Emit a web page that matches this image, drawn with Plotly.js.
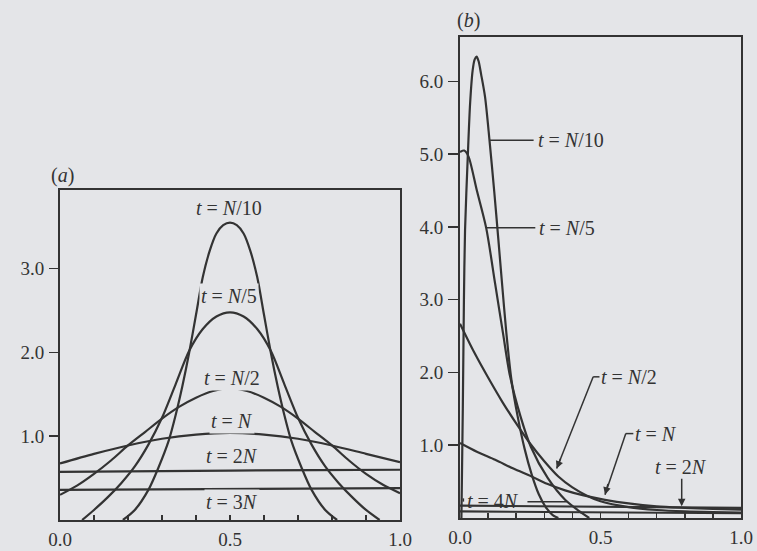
<!DOCTYPE html>
<html>
<head>
<meta charset="utf-8">
<script src="https://cdn.plot.ly/plotly-3.0.1.min.js"></script>
<style>html,body{margin:0;padding:0;background:#e4e5e8;}#chart{width:757px;height:551px;}</style>
</head>
<body>
<div id="chart"></div>
<script>
// ---------- Panel (a): initial frequency 0.5 ----------
const aN10x = [0.185,0.22,0.26,0.29,0.32,0.34,0.36,0.38,0.40,0.42,0.44,0.46,0.48,0.50,0.52,0.54,0.56,0.58,0.60,0.62,0.64,0.66,0.68,0.71,0.74,0.78,0.815];
const aN10y = [0,0.12,0.36,0.63,0.95,1.25,1.60,2.00,2.45,2.90,3.21,3.42,3.52,3.55,3.52,3.42,3.21,2.90,2.45,2.00,1.60,1.25,0.95,0.63,0.36,0.12,0];
const aN5x = [0.065,0.10,0.14,0.18,0.22,0.26,0.30,0.34,0.38,0.42,0.46,0.50,0.54,0.58,0.62,0.66,0.70,0.74,0.78,0.82,0.86,0.90,0.94];
const aN5y = [0,0.12,0.27,0.44,0.64,0.90,1.22,1.62,2.02,2.28,2.43,2.48,2.43,2.28,2.02,1.62,1.22,0.90,0.64,0.44,0.27,0.12,0];
const aN2x = [0,0.05,0.10,0.15,0.20,0.25,0.30,0.35,0.40,0.45,0.50,0.55,0.60,0.65,0.70,0.75,0.80,0.85,0.90,0.95,1.0];
const aN2y = [0.30,0.41,0.55,0.71,0.89,1.05,1.21,1.35,1.46,1.54,1.57,1.54,1.46,1.35,1.21,1.05,0.89,0.71,0.55,0.42,0.32];
const aNx = [0,0.1,0.2,0.3,0.4,0.5,0.6,0.7,0.8,0.9,1.0];
const aNy = [0.675,0.79,0.89,0.97,1.02,1.04,1.02,0.97,0.89,0.79,0.69];
const a2Nx = [0,0.25,0.5,0.75,1.0];
const a2Ny = [0.575,0.585,0.59,0.595,0.60];
const a3Nx = [0,0.25,0.5,0.75,1.0];
const a3Ny = [0.36,0.365,0.37,0.375,0.38];

// ---------- Panel (b): initial frequency near 0.1 ----------
const bN10x = [0.005,0.010,0.014,0.018,0.028,0.036,0.045,0.052,0.059,0.066,0.075,0.089,0.105,0.122,0.136,0.149,0.165,0.183,0.205,0.23,0.255,0.28,0.305,0.33,0.35];
const bN10y = [0,1.5,3.0,3.96,5.0,5.7,6.15,6.30,6.34,6.28,6.10,5.79,5.19,4.48,3.85,3.25,2.54,1.90,1.40,0.95,0.60,0.33,0.15,0.04,0];
const bN5x = [0,0.015,0.03,0.06,0.093,0.125,0.153,0.178,0.215,0.252,0.312,0.374,0.433,0.46];
const bN5y = [5.03,5.05,4.97,4.50,3.99,3.22,2.54,1.95,1.40,0.98,0.55,0.25,0.07,0];
const bN2x = [0,0.05,0.10,0.15,0.20,0.25,0.30,0.35,0.40,0.45,0.50,0.60,0.70,0.80,0.90,1.0];
const bN2y = [2.67,2.28,1.93,1.60,1.30,1.02,0.78,0.57,0.42,0.31,0.23,0.15,0.11,0.09,0.08,0.075];
const bNx = [0,0.06,0.125,0.19,0.255,0.31,0.374,0.44,0.516,0.60,0.70,0.80,0.90,1.0];
const bNy = [1.03,0.91,0.80,0.68,0.57,0.47,0.38,0.31,0.25,0.20,0.16,0.14,0.125,0.115];
const b2Nx = [0,0.25,0.5,0.75,1.0];
const b2Ny = [0.17,0.16,0.15,0.145,0.14];
const b4Nx = [0,0.5,1.0];
const b4Ny = [0.09,0.077,0.065];

const xTickVals = [0,0.1,0.2,0.3,0.4,0.5,0.6,0.7,0.8,0.9,1.0];
const xTickText = ['0.0','','','','','0.5','','','','','1.0'];
const aYTickVals = [1,2,3];
const aYTickText = ['1.0','2.0','3.0'];
const bYTickVals = [1,2,3,4,5,6];
const bYTickText = ['1.0','2.0','3.0','4.0','5.0','6.0'];

const INK = '#333333';
const BG = '#e4e5e8';
const SERIF = 'Liberation Serif, Times New Roman, serif';
const LBL = 20;

function curve(x, y, xa, ya, smooth) {
  return {x: x, y: y, xaxis: xa, yaxis: ya, type: 'scatter', mode: 'lines',
    line: {color: INK, width: 2.2, shape: smooth ? 'spline' : 'linear', smoothing: 0.8},
    hoverinfo: 'skip', showlegend: false};
}

const traces = [
  curve(aN10x, aN10y, 'x', 'y', true),
  curve(aN5x, aN5y, 'x', 'y', true),
  curve(aN2x, aN2y, 'x', 'y', true),
  curve(aNx, aNy, 'x', 'y', true),
  curve(a2Nx, a2Ny, 'x', 'y', false),
  curve(a3Nx, a3Ny, 'x', 'y', false),
  curve(bN10x, bN10y, 'x2', 'y2', true),
  curve(bN5x, bN5y, 'x2', 'y2', true),
  curve(bN2x, bN2y, 'x2', 'y2', true),
  curve(bNx, bNy, 'x2', 'y2', true),
  curve(b2Nx, b2Ny, 'x2', 'y2', false),
  curve(b4Nx, b4Ny, 'x2', 'y2', false)
];

const W = 757, H = 551;
function px(X) { return X / W; }
function py(Y) { return 1 - Y / H; }

function xAxis(dom) {
  return {domain: dom, range: [0, 1], showgrid: false, zeroline: false,
    showline: true, mirror: true, linecolor: INK, linewidth: 2,
    ticks: 'inside', ticklen: 5, tickwidth: 1.5, tickcolor: INK,
    tickvals: xTickVals, ticktext: xTickText, ticklabelstandoff: 1,
    tickfont: {family: SERIF, size: 19, color: '#333'}, fixedrange: true};
}
function yAxis(dom, rng, vals, text, len) {
  return {domain: dom, range: rng, showgrid: false, zeroline: false,
    showline: true, mirror: true, linecolor: INK, linewidth: 2,
    ticks: 'outside', ticklen: len, tickwidth: 1.5, tickcolor: INK,
    tickvals: vals, ticktext: text, ticklabelstandoff: 1,
    tickfont: {family: SERIF, size: 19, color: '#333'}, fixedrange: true};
}

function lab(text, x, y, xa, ya, anchor, bg) {
  return {text: text, x: x, y: y, xref: xa, yref: ya, xanchor: anchor || 'center', yanchor: 'middle',
    showarrow: false, bgcolor: bg === false ? 'rgba(0,0,0,0)' : BG, borderpad: 1,
    font: {family: SERIF, size: LBL, color: '#333'}};
}
function arrow(x, y, ax, ay, head) {
  return {text: '', x: x, y: y, ax: ax, ay: ay, xref: 'x2', yref: 'y2', axref: 'x2', ayref: 'y2',
    showarrow: true, arrowhead: head, arrowsize: 1, arrowwidth: 1.5, arrowcolor: INK, standoff: 0, startstandoff: 0};
}

const annotations = [
  {text: '(<i>a</i>)', x: px(62), y: py(175), xref: 'paper', yref: 'paper', xanchor: 'center', yanchor: 'middle',
    showarrow: false, font: {family: SERIF, size: LBL, color: '#333'}},
  {text: '(<i>b</i>)', x: px(468), y: py(21), xref: 'paper', yref: 'paper', xanchor: 'center', yanchor: 'middle',
    showarrow: false, font: {family: SERIF, size: LBL, color: '#333'}},
  lab('<i>t</i> = <i>N</i>/10', 0.497, 3.73, 'x', 'y'),
  lab('<i>t</i> = <i>N</i>/5', 0.497, 2.68, 'x', 'y'),
  lab('<i>t</i> = <i>N</i>/2', 0.507, 1.70, 'x', 'y'),
  lab('<i>t</i> = <i>N</i>', 0.507, 1.18, 'x', 'y'),
  lab('<i>t</i> = 2<i>N</i>', 0.507, 0.77, 'x', 'y'),
  lab('<i>t</i> = 3<i>N</i>', 0.507, 0.21, 'x', 'y'),
  lab('<i>t</i> = <i>N</i>/10', 0.272, 5.19, 'x2', 'y2', 'left'),
  lab('<i>t</i> = <i>N</i>/5', 0.275, 3.99, 'x2', 'y2', 'left'),
  lab('<i>t</i> = <i>N</i>/2', 0.496, 1.94, 'x2', 'y2', 'left'),
  lab('<i>t</i> = <i>N</i>', 0.616, 1.16, 'x2', 'y2', 'left'),
  lab('<i>t</i> = 2<i>N</i>', 0.788, 0.70, 'x2', 'y2'),
  lab('<i>t</i> = 4<i>N</i>', 0.018, 0.23, 'x2', 'y2', 'left', false),
  arrow(0.344, 0.68, 0.36, 0.835, 2),
  arrow(0.516, 0.32, 0.528, 0.49, 2),
  arrow(0.789, 0.16, 0.789, 0.56, 2)
];

function seg(x0, y0, x1, y1) {
  return {type: 'line', xref: 'x2', yref: 'y2', x0: x0, y0: y0, x1: x1, y1: y1,
    line: {color: INK, width: 1.5}};
}
const shapes = [
  seg(0.107, 5.19, 0.262, 5.19),
  seg(0.095, 3.99, 0.268, 3.99),
  seg(0.498, 1.94, 0.474, 1.94),
  seg(0.474, 1.94, 0.344, 0.68),
  seg(0.618, 1.16, 0.590, 1.16),
  seg(0.590, 1.16, 0.516, 0.32),
  seg(0.24, 0.225, 0.38, 0.225),
  seg(0.012, 0.225, 0.012, 0.27)
];

const layout = {
  width: W, height: H, autosize: false,
  margin: {l: 0, r: 0, t: 0, b: 0, pad: 0},
  paper_bgcolor: BG, plot_bgcolor: BG,
  showlegend: false,
  xaxis: Object.assign(xAxis([px(60), px(400)]), {anchor: 'y'}),
  yaxis: Object.assign(yAxis([py(520), py(190)], [0, 3.94], aYTickVals, aYTickText, 9), {anchor: 'x'}),
  xaxis2: Object.assign(xAxis([px(460), px(741)]), {anchor: 'y2'}),
  yaxis2: Object.assign(yAxis([py(518), py(37)], [0, 6.61], bYTickVals, bYTickText, 10), {anchor: 'x2'}),
  annotations: annotations,
  shapes: shapes
};

Plotly.newPlot('chart', traces, layout, {staticPlot: true, displayModeBar: false});
</script>
</body>
</html>
